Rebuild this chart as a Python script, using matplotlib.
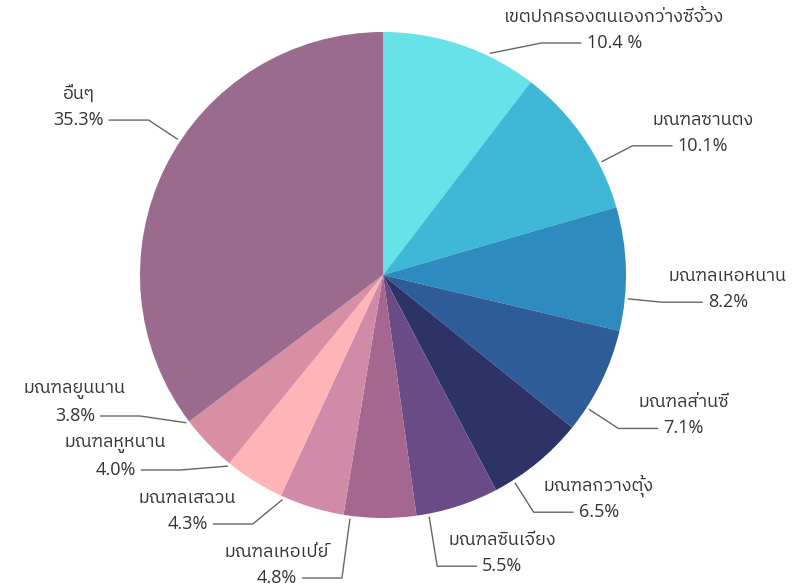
import numpy as np
import matplotlib
matplotlib.use("Agg")
import matplotlib.pyplot as plt
from matplotlib import font_manager
from matplotlib.ft2font import FT2Font

# Data
names = ["เขตปกครองตนเองกว่างซีจ้วง", "มณฑลซานตง", "มณฑลเหอหนาน", "มณฑลส่านซี",
         "มณฑลกวางตุ้ง", "มณฑลซินเจียง", "มณฑลเหอเป่ย์", "มณฑลเสฉวน",
         "มณฑลหูหนาน", "มณฑลยูนนาน", "อื่นๆ"]
shares = [10.4, 10.1, 8.2, 7.1, 6.5, 5.5, 4.8, 4.3, 4.0, 3.8, 35.3]
pct_labels = ["10.4 %", "10.1%", "8.2%", "7.1%", "6.5%", "5.5%", "4.8%",
              "4.3%", "4.0%", "3.8%", "35.3%"]
colors = ["#66e2e8", "#3fb7d7", "#2e8bbf", "#2e5c99", "#2d3366", "#6a4b87",
          "#a5668f", "#d08ba8", "#ffb4b8", "#d88ea3", "#9a6b8e"]


# find a font that has Thai glyphs
def find_thai_font():
    best = None
    for path in font_manager.findSystemFonts():
        try:
            cmap = FT2Font(path).get_charmap()
        except Exception:
            continue
        if 0x0E13 in cmap and 0x0E48 in cmap:
            name = font_manager.FontProperties(fname=path).get_name()
            if best is None or ("Sans" in name and "Sans" not in best):
                best = name
    return best


thai = find_thai_font()
families = ["Open Sans"]
if thai:
    families.append(thai)
families.append("DejaVu Sans")
plt.rcParams["font.family"] = families

W, H = 794, 588
fig = plt.figure(figsize=(W / 100, H / 100), dpi=100)
ax = fig.add_axes([0, 0, 1, 1])

cx, cy, R = 383, 275, 243   # centre in pixels from the top
wedges, _ = ax.pie(shares, colors=colors, startangle=90, counterclock=False,
                   center=(cx, H - cy), radius=R, wedgeprops=dict(linewidth=0))
ax.set_xlim(0, W)
ax.set_ylim(0, H)
ax.set_aspect("equal")
ax.axis("off")

# label anchors: angle on the rim, elbow on an outer circle
r_out = R + 38
shift = 7           # label lines sit a little clockwise of the wedge middle
gap, ymin, ymax = 54, 43, 578

labels = []
for i, w in enumerate(wedges):
    t = np.deg2rad((w.theta1 + w.theta2) / 2 - shift)
    dx, dy = np.cos(t), -np.sin(t)   # dy in top-down pixels
    side = 1 if dx >= 0 else -1
    labels.append(dict(i=i, side=side, sx=cx + (R + 3) * dx, sy=cy + (R + 3) * dy,
                       y=cy + r_out * dy))

# push labels apart on each side
for side in (1, -1):
    grp = sorted([l for l in labels if l["side"] == side], key=lambda l: l["y"])
    for k, l in enumerate(grp):
        lo = ymin if k == 0 else grp[k - 1]["y"] + gap
        l["y"] = max(l["y"], lo)
    for k in range(len(grp) - 1, -1, -1):
        hi = ymax if k == len(grp) - 1 else grp[k + 1]["y"] - gap
        grp[k]["y"] = min(grp[k]["y"], hi)

fig.canvas.draw()
renderer = fig.canvas.get_renderer()

for l in labels:
    side, y = l["side"], l["y"]
    d = y - cy
    ex = cx + side * np.sqrt(max(r_out ** 2 - d ** 2, 0))
    # keep the elbow outside the start point near the bottom
    if side * ex < side * l["sx"] + 8:
        ex = l["sx"] + side * 8
    x2 = ex + side * 40
    ax.plot([l["sx"], ex, x2], [H - l["sy"], H - y, H - y], color="#666666", lw=1,
            solid_capstyle="butt")
    p = ax.text(x2 + side * 5, H - y, pct_labels[l["i"]],
                ha="left" if side > 0 else "right", va="center",
                fontsize=13, color="#333333")
    bb = p.get_window_extent(renderer).transformed(ax.transData.inverted())
    ax.text((bb.x0 + bb.x1) / 2, H - y + 26, names[l["i"]], ha="center", va="center",
            fontsize=13, color="#333333")

fig.savefig("out.png", dpi=100)
